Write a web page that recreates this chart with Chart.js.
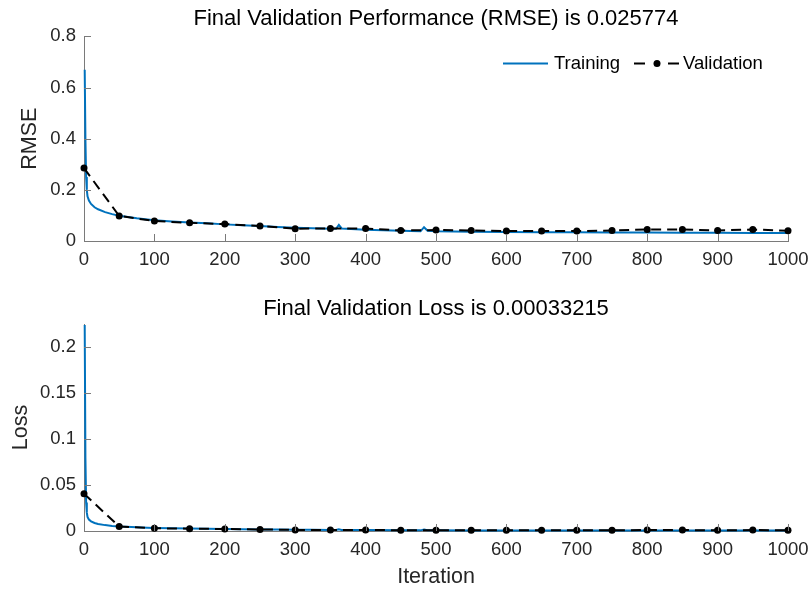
<!DOCTYPE html>
<html>
<head>
<meta charset="utf-8">
<script src="https://cdn.jsdelivr.net/npm/chart.js@4.4.1/dist/chart.umd.min.js"></script>
<style>
  body { margin: 0; background: #fff; }
  #wrap { position: relative; width: 811px; height: 590px; }
  canvas { position: absolute; left: 0; display: block; }
</style>
</head>
<body>
<div id="wrap">
  <canvas id="rmseChart" width="811" height="290" style="top:0"></canvas>
  <canvas id="lossChart" width="811" height="300" style="top:290px"></canvas>
</div>
<script>
// training curve at irregular iterations
var trainIter = [1, 2, 3, 4, 5, 7, 10, 15, 20, 30, 40, 50, 60, 75, 90, 100, 125, 150, 175, 200,
    225, 250, 275, 300, 325, 350, 358, 362, 366, 400, 450, 478, 483, 488, 500, 550, 600, 650, 700, 750,
    800, 850, 900, 950, 1000];
var trainRmse = [0.67, 0.40, 0.25, 0.20, 0.175, 0.158, 0.145, 0.132, 0.124, 0.113, 0.105, 0.099, 0.095, 0.089, 0.084, 0.081, 0.076, 0.072, 0.069, 0.065,
    0.062, 0.059, 0.055, 0.052, 0.050, 0.048, 0.048, 0.063, 0.049, 0.044, 0.040, 0.038, 0.054, 0.040, 0.038, 0.036, 0.035, 0.034, 0.034, 0.033,
    0.033, 0.032, 0.032, 0.031, 0.031];
var trainLoss = [0.224, 0.080, 0.031, 0.020, 0.0153, 0.0125, 0.0105, 0.0087, 0.0077, 0.0064, 0.0055, 0.0049, 0.0045, 0.0040, 0.0035, 0.0033, 0.0029, 0.0026, 0.0024, 0.0021,
    0.0019, 0.0017, 0.0015, 0.0014, 0.0013, 0.0012, 0.0012, 0.0020, 0.0012, 0.0010, 0.0008, 0.0007, 0.0015, 0.0008, 0.0007, 0.00065, 0.0006, 0.00058, 0.00058, 0.00054,
    0.00054, 0.00051, 0.00051, 0.00048, 0.00048];

// validation every 50 iterations
var valIter = [0, 50, 100, 150, 200, 250, 300, 350, 400, 450, 500, 550, 600, 650, 700, 750, 800, 850, 900, 950, 1000];
var valRmse = [0.285, 0.098, 0.078, 0.071, 0.066, 0.059, 0.048, 0.049, 0.049, 0.041, 0.043, 0.041, 0.039, 0.039, 0.039, 0.041, 0.045, 0.045, 0.041, 0.045, 0.040];
var valLoss = [0.0406, 0.0048, 0.0030, 0.0025, 0.0022, 0.0017, 0.0012, 0.0012, 0.0012, 0.0008, 0.0009, 0.0008, 0.0008, 0.0008, 0.0008, 0.0008, 0.0010, 0.0010, 0.0008, 0.0010, 0.0008];

var xTicks = [0, 100, 200, 300, 400, 500, 600, 700, 800, 900, 1000];
var rmseTicks = [0, 0.2, 0.4, 0.6, 0.8];
var lossTicks = [0, 0.05, 0.1, 0.15, 0.2];

var blue = 'rgb(0,114,189)';
var axisColor = '#7a7a7a';
var textColor = '#262626';
var fam = '"Liberation Sans", Arial, sans-serif';

Chart.defaults.font.family = fam;

function pts(xs, ys) {
    return xs.map(function (x, i) { return { x: x, y: ys[i] }; });
}

// MATLAB style ticks pointing into the plot
var inwardTicks = {
    id: 'inwardTicks',
    afterDraw: function (chart) {
        var ctx = chart.ctx, a = chart.chartArea, sx = chart.scales.x, sy = chart.scales.y;
        ctx.save();
        ctx.strokeStyle = axisColor;
        ctx.lineWidth = 1;
        ctx.beginPath();
        sx.ticks.forEach(function (t) {
            var px = Math.round(sx.getPixelForValue(t.value)) + 0.5;
            ctx.moveTo(px, a.bottom);
            ctx.lineTo(px, a.bottom - 7);
        });
        sy.ticks.forEach(function (t) {
            var py = Math.round(sy.getPixelForValue(t.value)) + 0.5;
            ctx.moveTo(a.left, py);
            ctx.lineTo(a.left + 7, py);
        });
        ctx.stroke();
        ctx.restore();
    }
};

// legend drawn inside the top axes, upper right
var insideLegend = {
    id: 'insideLegend',
    afterDraw: function (chart) {
        var ctx = chart.ctx, a = chart.chartArea;
        var y = a.top + 27;
        var x0 = a.right - 285;
        ctx.save();
        ctx.lineWidth = 2;
        ctx.strokeStyle = blue;
        ctx.beginPath();
        ctx.moveTo(x0, y);
        ctx.lineTo(x0 + 45, y);
        ctx.stroke();
        ctx.font = '18.5px ' + fam;
        ctx.fillStyle = '#000';
        ctx.textBaseline = 'middle';
        ctx.fillText('Training', x0 + 51, y + 1);
        var x1 = a.right - 154;
        ctx.strokeStyle = '#000';
        ctx.beginPath();
        ctx.moveTo(x1, y); ctx.lineTo(x1 + 11, y);
        ctx.moveTo(x1 + 34, y); ctx.lineTo(x1 + 45, y);
        ctx.stroke();
        ctx.beginPath();
        ctx.arc(x1 + 23, y, 3.5, 0, Math.PI * 2);
        ctx.fill();
        ctx.fillText('Validation', x1 + 49, y + 1);
        ctx.restore();
    }
};

function xScale(showTitle, height) {
    return {
        type: 'linear',
        min: 0,
        max: 1000,
        afterBuildTicks: function (s) { s.ticks = xTicks.map(function (v) { return { value: v }; }); },
        afterFit: function (s) {
            s.height = height;
            // let the layout padding alone decide where the axes end
            s.paddingLeft = 0;
            s.paddingRight = 0;
        },
        grid: { display: false, drawTicks: false },
        border: { display: true, color: axisColor, width: 1 },
        ticks: { color: textColor, font: { size: 18.5 }, padding: 8, maxRotation: 0, autoSkip: false,
            callback: function (v) { return String(v); } },
        title: { display: showTitle, text: 'Iteration', color: textColor, font: { size: 21.5 }, padding: { top: 0, bottom: 0 } }
    };
}

function yScale(max, tickList, label, titlePad) {
    return {
        min: 0,
        max: max,
        afterBuildTicks: function (s) { s.ticks = tickList.map(function (v) { return { value: v }; }); },
        afterFit: function (s) { s.width = 84; },
        grid: { display: false, drawTicks: false },
        border: { display: true, color: axisColor, width: 1 },
        ticks: { color: textColor, font: { size: 18.5 }, padding: 8, callback: function (v) { return String(v); } },
        title: { display: true, text: label, color: textColor, font: { size: 21.5 }, padding: { top: titlePad, bottom: 0 } }
    };
}

function datasets(trainY, valY) {
    return [{
        label: 'Validation',
        data: pts(valIter, valY),
        borderColor: '#000',
        backgroundColor: '#000',
        borderWidth: 2,
        borderDash: [10, 6],
        pointRadius: 3.5,
        pointBackgroundColor: '#000',
        pointBorderWidth: 0,
        clip: false,
        order: 0
    }, {
        label: 'Training',
        data: pts(trainIter, trainY),
        borderColor: blue,
        borderWidth: 2,
        pointRadius: 0,
        clip: false,
        order: 1
    }];
}

var ctxRmse = document.getElementById('rmseChart').getContext('2d');
var rmseChart = new Chart(ctxRmse, {
    type: 'line',
    data: { datasets: datasets(trainRmse, valRmse) },
    options: {
        responsive: false,
        animation: false,
        layout: { padding: { left: 0, right: 23, top: 0, bottom: 0 } },
        plugins: {
            legend: { display: false },
            tooltip: { enabled: false },
            title: {
                display: true, text: 'Final Validation Performance (RMSE) is 0.025774', fullSize: false,
                color: '#000', font: { size: 22, weight: 'normal' }, padding: { top: 6, bottom: 4 }
            }
        },
        scales: { x: xScale(false, 49), y: yScale(0.8, rmseTicks, 'RMSE', 17) }
    },
    plugins: [inwardTicks, insideLegend]
});

var ctxLoss = document.getElementById('lossChart').getContext('2d');
var lossChart = new Chart(ctxLoss, {
    type: 'line',
    data: { datasets: datasets(trainLoss, valLoss) },
    options: {
        responsive: false,
        animation: false,
        layout: { padding: { left: 0, right: 23, top: 0, bottom: 0 } },
        plugins: {
            legend: { display: false },
            tooltip: { enabled: false },
            title: {
                display: true, text: 'Final Validation Loss is 0.00033215', fullSize: false,
                color: '#000', font: { size: 22, weight: 'normal' }, padding: { top: 5.5, bottom: 2.1 }
            }
        },
        scales: { x: xScale(true, 59), y: yScale(0.225, lossTicks, 'Loss', 8) }
    },
    plugins: [inwardTicks]
});
</script>
</body>
</html>
